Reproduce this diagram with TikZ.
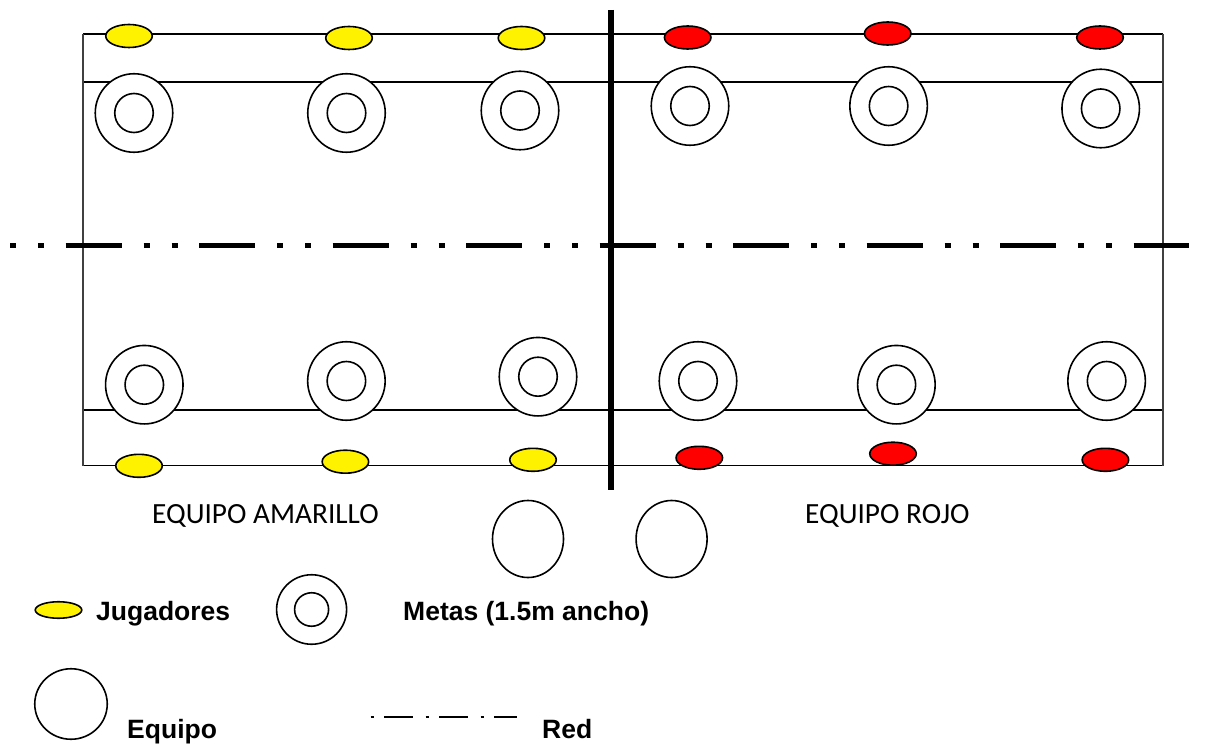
\documentclass[tikz,border=0pt]{standalone}
\usepackage{fontspec}
\setmainfont{Liberation Sans}
\newfontfamily\carlito{Carlito}
\usetikzlibrary{shapes.geometric}
\begin{document}
\begin{tikzpicture}[x=1pt,y=-1pt,
  player/.style={ellipse,draw=black,line width=1.6pt,minimum width=46.5pt,minimum height=23pt,inner sep=0pt},
  yel/.style={player,fill=yellow},
  redp/.style={player,fill=red},
  goalout/.style={ellipse,draw=black,line width=1.6pt,fill=white,minimum width=77.5pt,minimum height=78.5pt,inner sep=0pt},
  goalin/.style={ellipse,draw=black,line width=1.6pt,minimum width=38.5pt,minimum height=39pt,inner sep=0pt},
  team/.style={ellipse,draw=black,line width=1.6pt,fill=white,minimum width=71pt,minimum height=77pt,inner sep=0pt},
  fieldh/.style={line width=1.7pt},
  fieldv/.style={line width=1.5pt,draw=black!75},
  netline/.style={line width=6pt},
  divline/.style={line width=5.7pt,dash pattern=on 6pt off 22pt on 6pt off 21.5pt on 56pt off 22pt},
  redsample/.style={line width=2pt,dash pattern=on 3.5pt off 10pt on 29pt off 12.5pt},
  lbl/.style={font=\carlito\fontsize{29.3}{35}\selectfont,anchor=base west,inner sep=0pt},
  leg/.style={font=\bfseries\fontsize{26.5}{31}\selectfont,anchor=base west,inner sep=0pt}]
\useasboundingbox (0,0) rectangle (1207,746);
% field
\draw[fieldh] (83,34) -- (1163,34);
\draw[fieldh] (83,81.7) -- (1163,81.7);
\draw[fieldh] (83,410) -- (1163,410);
\draw[fieldh] (83,465.5) -- (1163,465.5);
\draw[fieldv] (83,34) -- (83,465.5);
\draw[fieldv] (1163,34) -- (1163,465.5);
% dividing line
\coordinate (dA) at (10,245.5);
\coordinate (dB) at (1189,245.5);
\draw[divline] (dA) -- (dB);
% net
\coordinate (nA) at (611,10);
\coordinate (nB) at (611,490);
\draw[netline] (nA) -- (nB);
% goals
\foreach \n/\x/\y in {a/134/113, b/346.5/113, c/520/110.5, d/690/106, e/888.6/106, f/1100.7/108.5,
                      g/144.3/384.7, h/346.4/381, i/538/376.7, j/698/381, k/896.4/384.7, l/1106.6/381}{
  \node[goalout] (go\n) at (\x,\y) {};
  \node[goalin] (gi\n) at (go\n) {};
}
% players
\node[yel] (ya) at (129,36) {};
\node[yel] (yb) at (349,38) {};
\node[yel] (yc) at (521.5,38) {};
\node[redp] (ra) at (687.7,37.5) {};
\node[redp] (rb) at (887.7,33.5) {};
\node[redp] (rc) at (1100,37.5) {};
\node[yel] (yd) at (139,465.8) {};
\node[yel] (ye) at (345.4,461.7) {};
\node[yel] (yf) at (533,459.8) {};
\node[redp] (rd) at (699.3,457.8) {};
\node[redp] (re) at (893,453.7) {};
\node[redp] (rf) at (1105.4,459.8) {};
% team labels and circles
\node[lbl] (tA) at (152,523) {EQUIPO AMARILLO};
\node[lbl] (tR) at (805,523) {EQUIPO ROJO};
\node[team] (eqA) at (528,539) {};
\node[team] (eqR) at (671.6,539) {};
% legend
\node[player,fill=yellow,minimum height=16.5pt] (lj) at (58.5,610) {};
\node[leg] (ljt) at (96,620) {Jugadores};
\node[goalout,minimum width=70pt,minimum height=69.5pt] (lgo) at (311.6,609.5) {};
\node[goalin,minimum width=34pt,minimum height=33.5pt] (lgi) at (lgo) {};
\node[leg] (lgt) at (403,620) {Metas (1.5m ancho)};
\node[team,minimum width=72.5pt,minimum height=70.5pt] (leq) at (71,704) {};
\node[leg] (leqt) at (127,738) {Equipo};
\coordinate (rsA) at (370.5,716.7);
\coordinate (rsB) at (516.5,716.7);
\draw[redsample] (rsA) -- (rsB);
\node[leg] (lrt) at (542,738) {Red};
\end{tikzpicture}
\end{document}
